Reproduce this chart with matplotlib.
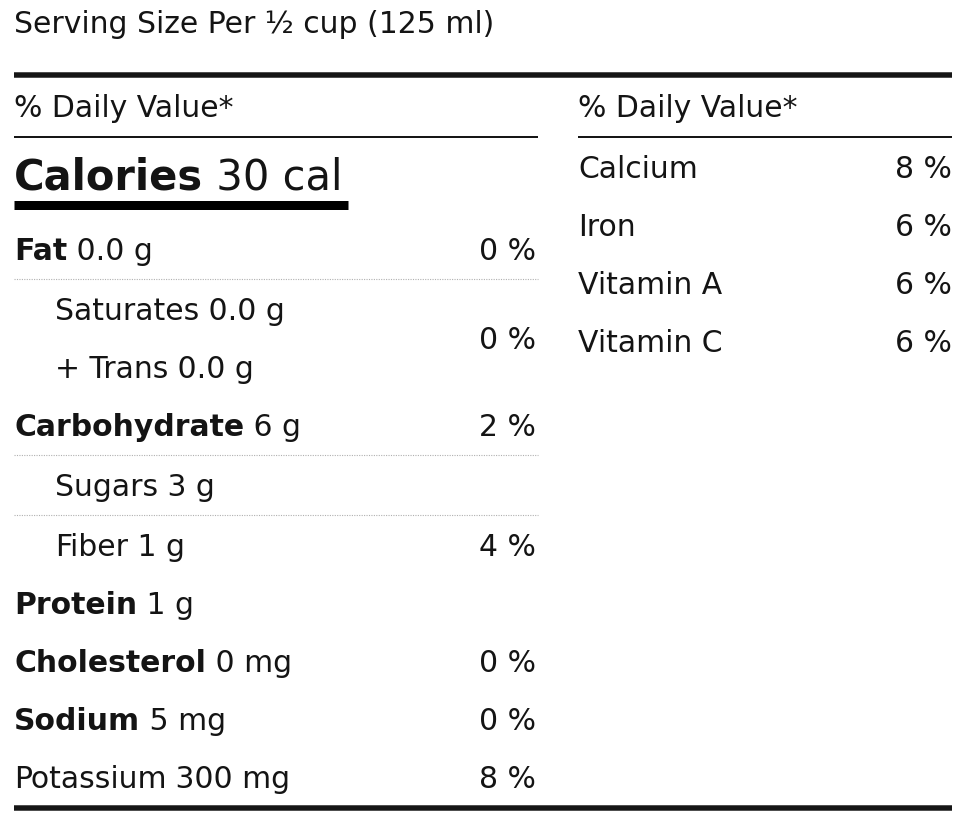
import matplotlib
matplotlib.use("Agg")
import matplotlib.pyplot as plt

# ---- data ----
serving_text = "Serving Size Per ½ cup (125 ml)"
header_text = "% Daily Value*"
calories_label = "Calories"
calories_value = "30 cal"

left_names = ["Fat", "Saturates", "+ Trans", "Carbohydrate", "Sugars", "Fiber",
              "Protein", "Cholesterol", "Sodium", "Potassium"]
left_amounts = ["0.0 g", "0.0 g", "0.0 g", "6 g", "3 g", "1 g", "1 g", "0 mg", "5 mg", "300 mg"]
left_bold = [True, False, False, True, False, False, True, True, True, False]
left_indent = [False, True, True, False, True, True, False, False, False, False]
left_dv = [0, 0, None, 2, None, 4, None, 0, 0, 8]      # % daily value
left_dv_span = [1, 2, 0, 1, 0, 1, 0, 1, 1, 1]           # rows the value covers
dotted_after = ["Fat", "Carbohydrate", "Sugars"]

right_names = ["Calcium", "Iron", "Vitamin A", "Vitamin C"]
right_dv = [8, 6, 6, 6]

# ---- layout (pixels) ----
W, H = 972, 826
fig = plt.figure(figsize=(W / 100, H / 100), dpi=100)
ax = fig.add_axes([0, 0, 1, 1])
ax.set_xlim(0, W)
ax.set_ylim(H, 0)
ax.axis("off")

FAM = ["DejaVu Sans"]
TXT = "#141414"
LINE = "#161616"
FS = 21.5

def px2pt(p):
    return p * 72 / 100

L0, L1 = 14, 538
R0, R1 = 578, 952
PCT_L = 536

ax.text(L0, 33, serving_text, fontsize=FS, family=FAM, color=TXT, va="baseline")
ax.plot([L0, R1], [75, 75], color=LINE, lw=px2pt(5.5), solid_capstyle="butt")

for x0, x1 in [(L0, L1), (R0, R1)]:
    ax.text(x0, 117, header_text, fontsize=FS, family=FAM, color=TXT, va="baseline")
    ax.plot([x0, x1], [137, 137], color=LINE, lw=px2pt(2), solid_capstyle="butt")

CFS = 30
t = ax.text(L0, 189, calories_label, fontsize=CFS, family=FAM, weight="bold",
            color=TXT, va="baseline")
ax.annotate(" " + calories_value, xy=(1, 0), xycoords=t, fontsize=CFS, family=FAM,
            color=TXT, va="bottom", ha="left")
ax.plot([L0, 348], [205, 205], color="#000000", lw=px2pt(9), solid_capstyle="butt")

# left rows
y = 260
row_y = []
for i, name in enumerate(left_names):
    row_y.append(y)
    step = 58
    if name in dotted_after:
        step += 2
    y += step

for i, name in enumerate(left_names):
    yb = row_y[i]
    x = 55 if left_indent[i] else L0
    t = ax.text(x, yb, name, fontsize=FS, family=FAM,
                weight="bold" if left_bold[i] else "normal", color=TXT, va="baseline")
    ax.annotate(" " + left_amounts[i], xy=(1, 0), xycoords=t, fontsize=FS, family=FAM,
                color=TXT, va="bottom", ha="left")
    if left_dv[i] is not None:
        yy = yb if left_dv_span[i] == 1 else (row_y[i] + row_y[i + left_dv_span[i] - 1]) / 2
        ax.text(PCT_L, yy, f"{left_dv[i]} %", fontsize=FS, family=FAM, color=TXT,
                va="baseline", ha="right")
    if name in dotted_after:
        yd = (row_y[i] + row_y[i + 1]) / 2 - 11
        ax.plot([L0, L1], [yd, yd], color="#b0b0b0", lw=0.8, ls=(0, (1, 1.2)))

# right rows
for j, name in enumerate(right_names):
    yb = 178 + 58 * j
    ax.text(R0, yb, name, fontsize=FS, family=FAM, color=TXT, va="baseline")
    ax.text(R1, yb, f"{right_dv[j]} %", fontsize=FS, family=FAM, color=TXT,
            va="baseline", ha="right")

ax.plot([L0, R1], [808, 808], color=LINE, lw=px2pt(5.5), solid_capstyle="butt")

fig.savefig("out.png", dpi=100, facecolor="white")
